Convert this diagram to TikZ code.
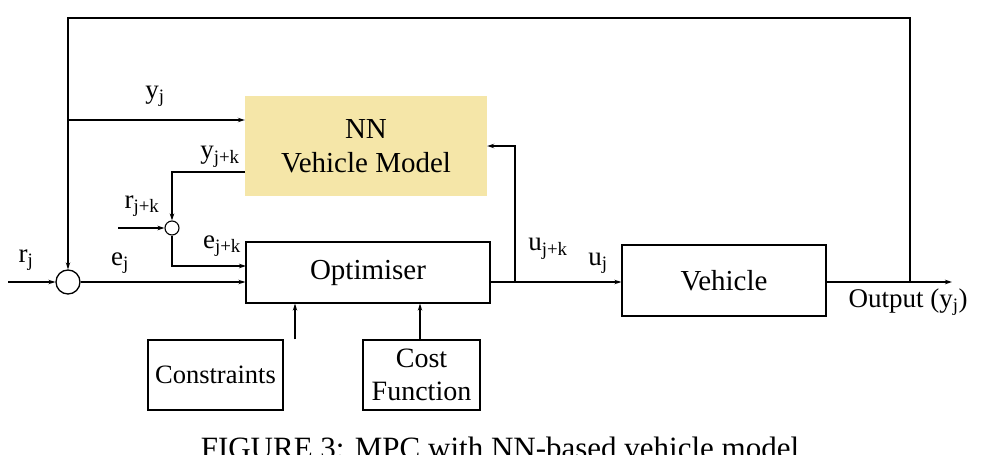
\documentclass[tikz,border=0pt]{standalone}
\usepackage{fontspec}
\setmainfont{Liberation Serif}
\usetikzlibrary{arrows.meta}
\begin{document}
\begin{tikzpicture}[x=1pt,y=-1pt,
  every node/.style={font=\fontsize{29}{32}\selectfont},
  blk/.style={draw,line width=1.3pt,minimum width=#1,inner sep=0pt},
  ln/.style={line width=1.1pt},
  arr/.style={ln,-{Stealth[length=7pt,width=4.5pt]}},
  lbl/.style={font=\fontsize{27}{30}\selectfont,inner sep=0pt}]
\useasboundingbox (0,0) rectangle (999,455);
\node[fill={rgb,255:red,245;green,230;blue,168},minimum width=242pt,minimum height=100pt,align=center,inner sep=0pt,font=\fontsize{29}{34}\selectfont] (nn) at (366,146) {NN\\Vehicle Model};
\node[blk=244pt,minimum height=61pt] (opt) at (368,272.5) {Optimiser};
\node[blk=204pt,minimum height=71pt] (veh) at (724,280.5) {Vehicle};
\node[blk=135pt,minimum height=70pt,font=\fontsize{26.5}{30}\selectfont] (con) at (215.5,375) {Constraints};
\node[blk=117pt,minimum height=70pt,align=center,font=\fontsize{28}{33}\selectfont] (cost) at (421.5,375) {Cost\\Function};
\node[draw,circle,line width=1.3pt,minimum size=24pt,inner sep=0pt] (s1) at (68,282) {};
\node[draw,circle,line width=1.1pt,minimum size=14pt,inner sep=0pt] (s2) at (172,228) {};
\coordinate (rin) at (8,282);
\coordinate (r2in) at (118,228);
\coordinate (out) at (952,282);
\coordinate (tap) at (910,282);
\coordinate (br) at (515,282);
\coordinate (yb) at (68,120);
\draw[arr] (rin) -- (s1);
\draw[arr] (s1) -- (s1 -| opt.west);
\draw[arr] (veh.east |- br) -- (out);
\draw[ln] (tap) -- (910,18) -- (68,18) -- (yb);
\draw[arr] (yb) -- (s1.north);
\draw[arr] (yb) -- (yb -| nn.west);
\draw[arr] (245,172) -- (172,172) -- (s2.north);
\draw[arr] (r2in) -- (s2);
\draw[arr] (s2.south) -- (172,266) -- (246,266);
\draw[arr] (490,282) -- (veh.west |- br);
\draw[arr] (br) -- (515,146) -- (nn.east |- 0,146);
\draw[arr] (con.north -| 295,0) -- (opt.south -| 295,0);
\draw[arr] (cost.north -| 420,0) -- (opt.south -| 420,0);
\node[lbl] (l1) at (155,96) {y\textsubscript{j}};
\node[lbl] (l2) at (26,260) {r\textsubscript{j}};
\node[lbl] (l3) at (120,263) {e\textsubscript{j}};
\node[lbl] (l4) at (220,157) {y\textsubscript{j+k}};
\node[lbl] (l5) at (142,206) {r\textsubscript{j+k}};
\node[lbl] (l6) at (222,246) {e\textsubscript{j+k}};
\node[lbl] (l7) at (548,249) {u\textsubscript{j+k}};
\node[lbl] (l8) at (598,263) {u\textsubscript{j}};
\node[lbl] (l9) at (908,302) {Output (y\textsubscript{j})};
\node[font=\fontsize{31}{34}\selectfont,anchor=north,inner sep=0pt] (cap) at (500,437) {FIGURE 3: MPC with NN-based vehicle model};
\end{tikzpicture}
\end{document}
